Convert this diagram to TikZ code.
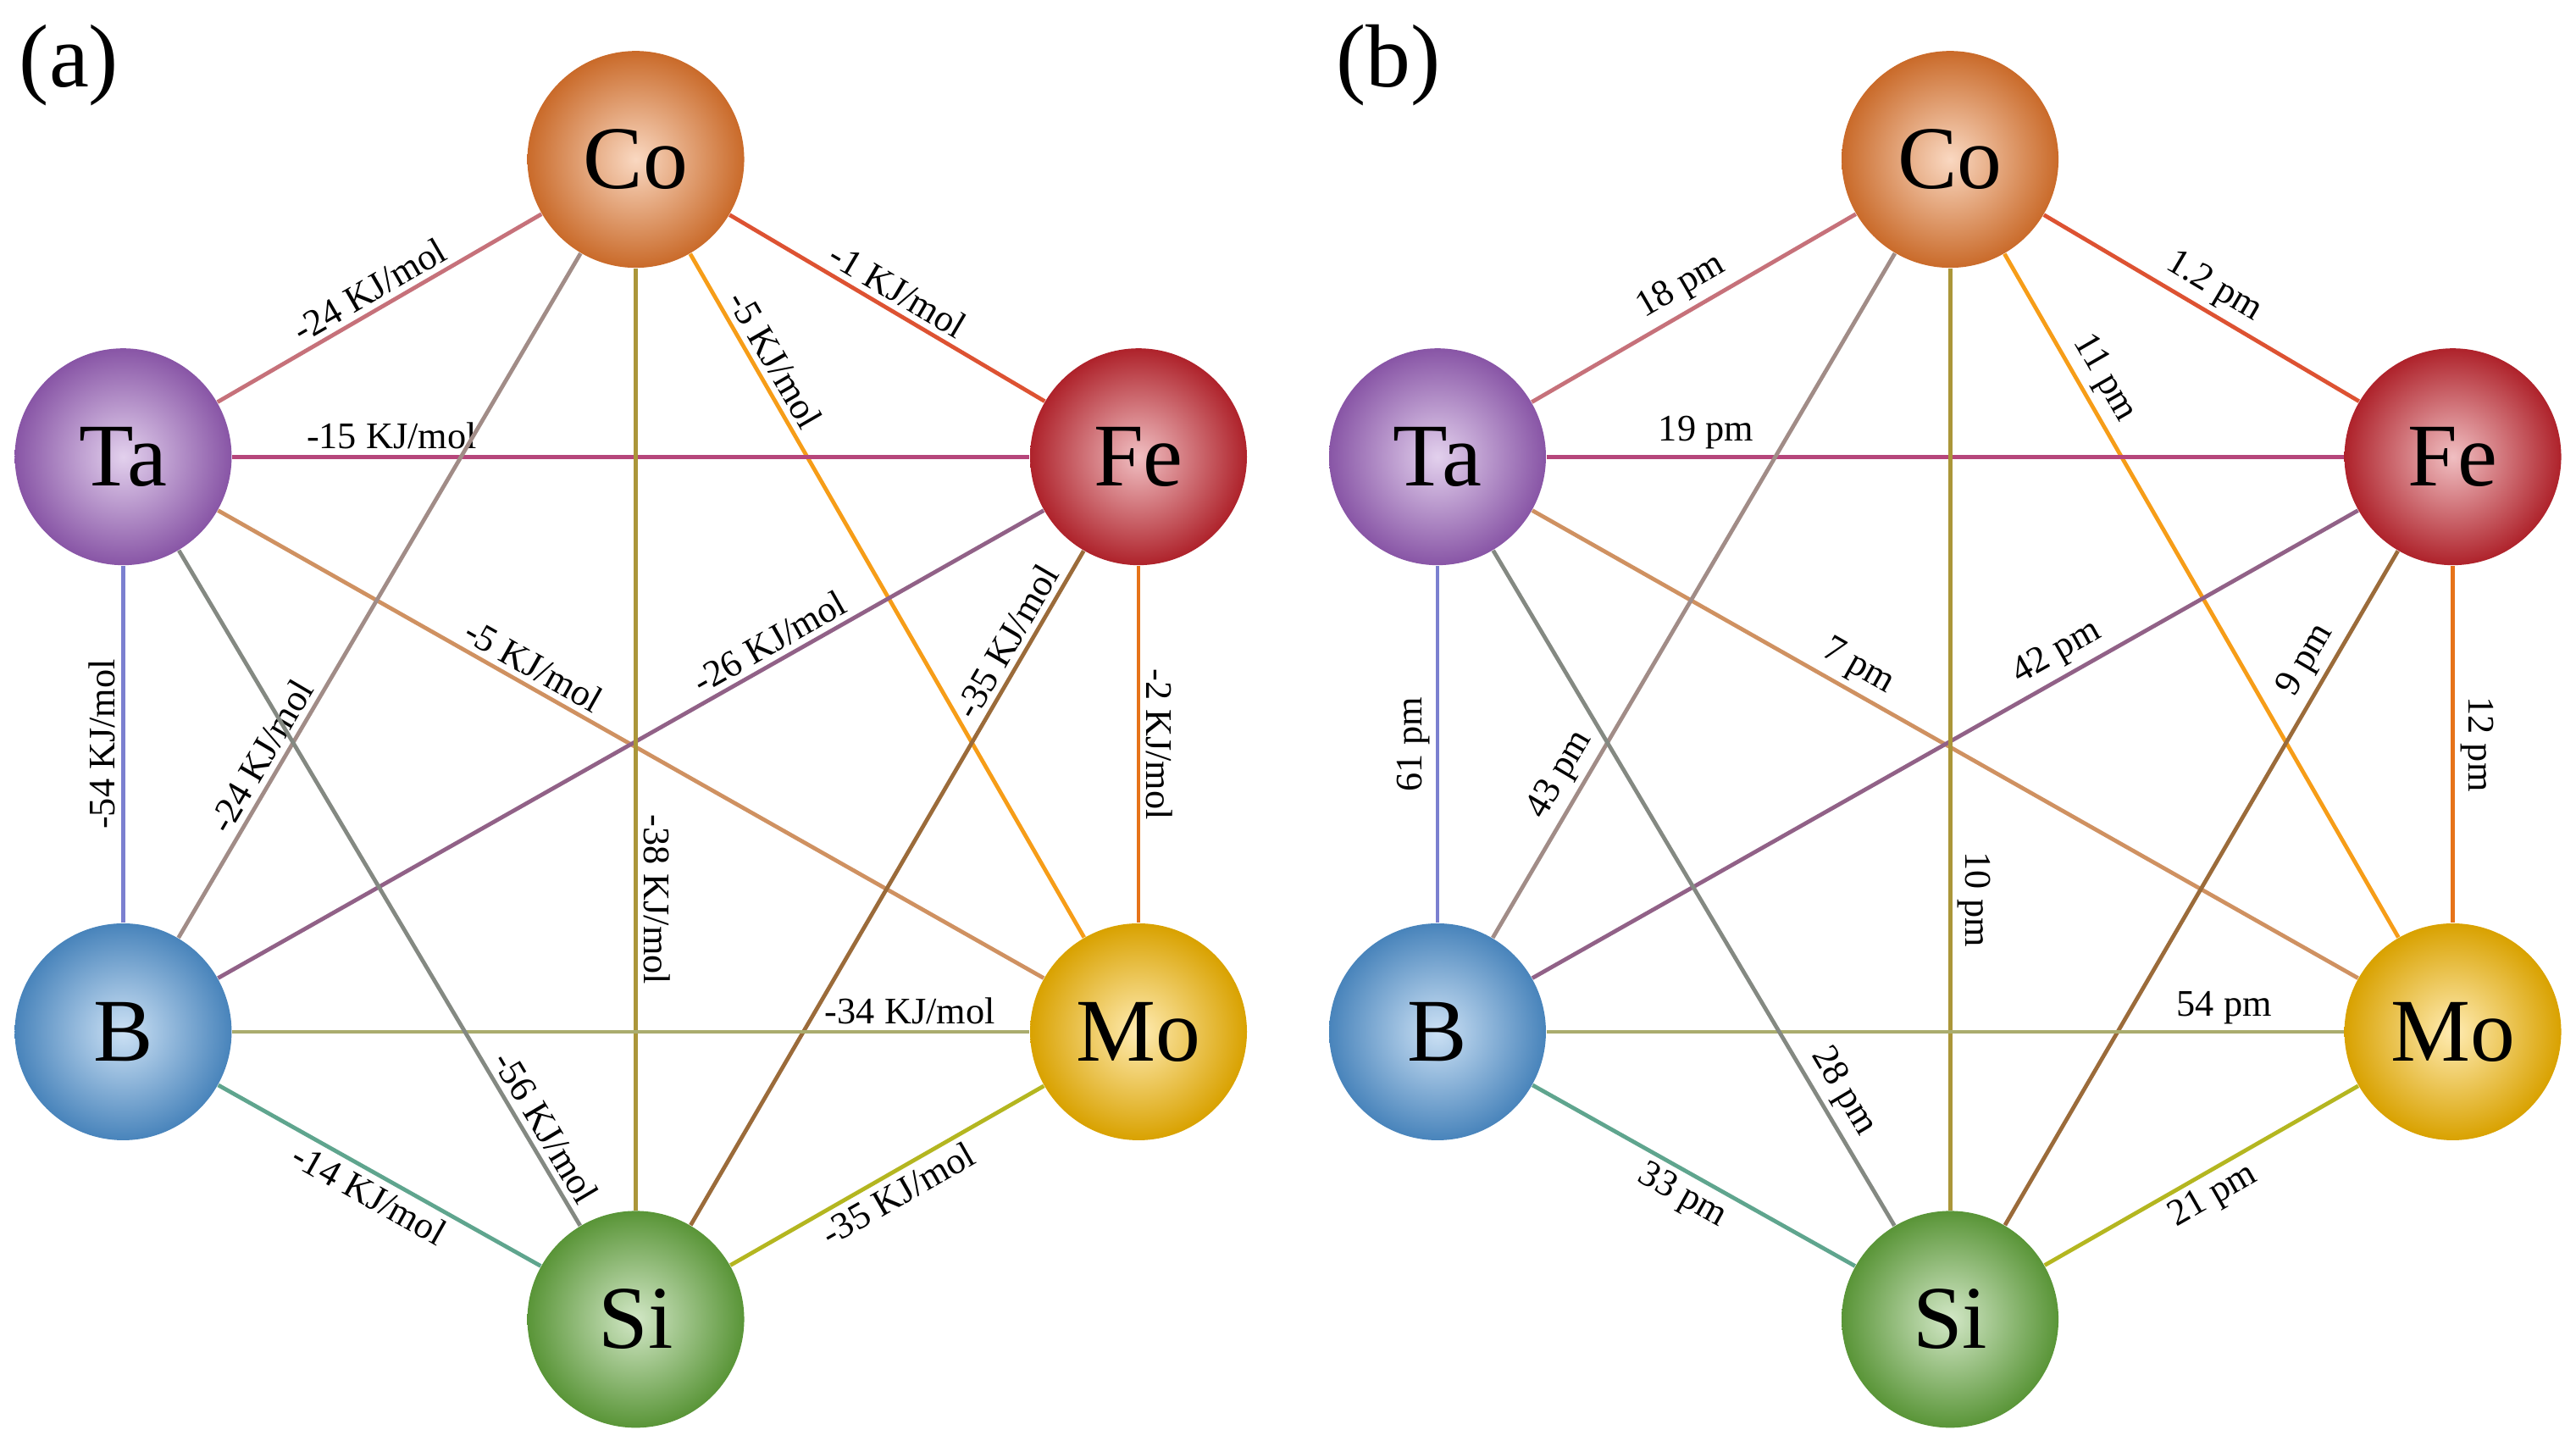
\documentclass[tikz,border=0pt]{standalone}
\usepackage{fontspec}
\setmainfont{Liberation Serif}
\usetikzlibrary{positioning}

\definecolor{cCo}{RGB}{237,125,49}
\definecolor{cTa}{RGB}{160,100,195}
\definecolor{cFe}{RGB}{205,40,50}
\definecolor{cB}{RGB}{85,155,220}
\definecolor{cMo}{RGB}{255,190,0}
\definecolor{cSi}{RGB}{105,175,65}

\tikzset{
  atom/.style={circle,minimum size=2.64cm,inner sep=0pt,
    shading=radial,inner color=#1!30!white,outer color=#1!85!black,
    font=\fontsize{31}{31}\selectfont},
  bond/.style={line width=1.4pt},
  val/.style={sloped,inner sep=2pt,text=black,font=\fontsize{13}{14}\selectfont},
  tag/.style={font=\fontsize{31}{31}\selectfont}
}

% one panel: prefix, x offset, unit, bond labels
\newcommand{\panel}[4]{%
  \begin{scope}[shift={(#2,0)}]
    \foreach \n/\x/\y in {Co/387/97,Ta/75/278,Fe/693/278,B/75/628,Mo/693/628,Si/387/803}
      \node[atom=c\n] (#1\n) at (\x,\y) {\n};
    \foreach \f/\t/\p/\s/\v in {#4}
      \draw[bond,color=c\f!50!c\t] (#1\f) -- (#1\t) node[val,pos=\p,\s] {\v#3};
  \end{scope}}

\begin{document}
\begin{tikzpicture}[x=0.02cm,y=-0.02cm]
\useasboundingbox (0,0) rectangle (1568,877);

\node[tag] (taga) at (42,40) {(a)};
\node[tag] (tagb) at (845,40) {(b)};

\panel{a}{0}{ KJ/mol}{Ta/Co/0.5/above/-24,Co/Fe/0.5/above/-1,Co/Mo/0.17/above/-5,
  Ta/Fe/0.2/above/-15,Ta/Mo/0.37/above/-5,B/Fe/0.68/above/-26,Si/Fe/0.85/above/-35,
  Fe/Mo/0.5/above/-2,B/Ta/0.5/above/-54,B/Co/0.25/above/-24,Co/Si/0.67/above/-38,
  B/Mo/0.85/above/-34,Ta/Si/0.87/above/-56,B/Si/0.5/below/-14,Si/Mo/0.5/below/-35}

\panel{b}{800}{ pm}{Ta/Co/0.5/above/18,Co/Fe/0.5/above/1.2,Co/Mo/0.2/above/11,
  Ta/Fe/0.2/above/19,Ta/Mo/0.38/above/7,B/Fe/0.65/above/42,Si/Fe/0.82/above/9,
  Fe/Mo/0.5/above/12,B/Ta/0.5/above/61,B/Co/0.22/above/43,Co/Si/0.67/above/10,
  B/Mo/0.85/above/54,Ta/Si/0.82/above/28,B/Si/0.5/below/33,Si/Mo/0.5/below/21}
\end{tikzpicture}
\end{document}
